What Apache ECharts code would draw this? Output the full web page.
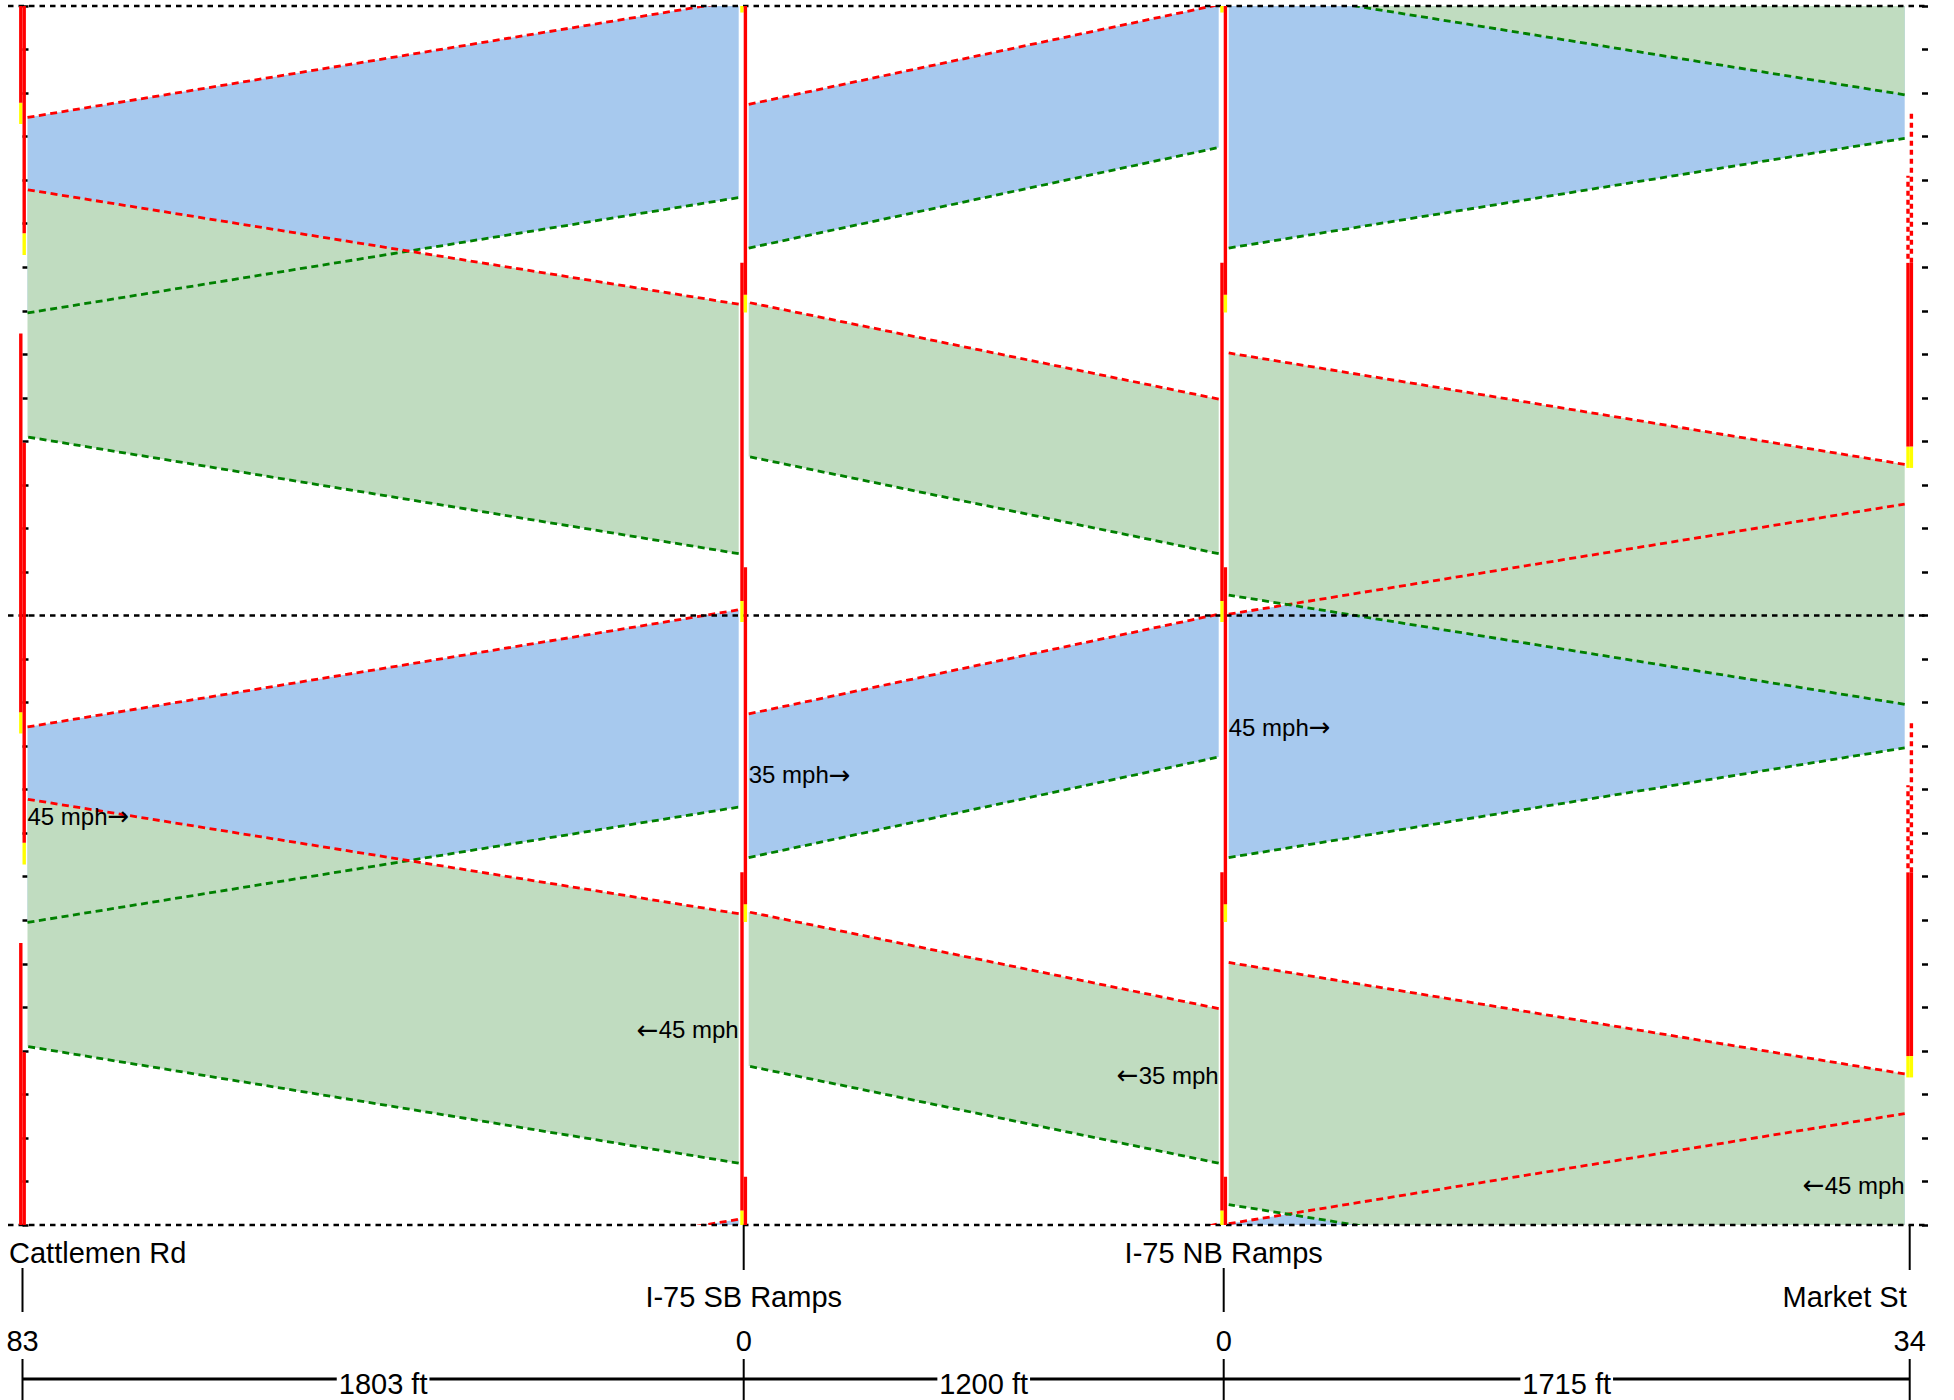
<!DOCTYPE html>
<html><head><meta charset="utf-8">
<script src="https://cdn.jsdelivr.net/npm/echarts@6/dist/echarts.min.js"></script>
<style>html,body{margin:0;padding:0;background:#fff}#c{width:1954px;height:1400px}</style>
</head><body><div id="c"></div>
<script>
// ---------- data ----------
const intersections = ['Cattlemen Rd', 'I-75 SB Ramps', 'I-75 NB Ramps', 'Market St'];
const linkDistances = [1803, 1200, 1715];          // ft
const offsets = ['83', '0', '0', '34'];
const cycleLength = 140;                           // s
const ebSpeeds = ['45 mph', '35 mph', '45 mph'];
const wbSpeeds = ['45 mph', '35 mph', '45 mph'];
// Eastbound band edges [green edge, red edge] (s in cycle) at west end / east end of each link
const ebBandWest = [[69.5, 114.4], [84.4, 117.4], [84.4, 140.3]];
const ebBandEast = [[96.0, 141.3], [107.5, 140.3], [109.6, 165.6]];
// Westbound band edges [green edge, red edge] at east end (upstream) / west end (downstream)
const wbBandEast = [[14.2, 71.5], [14.2, 49.7], [-20.4, 34.7]];
const wbBandWest = [[41.0, 97.8], [36.5, 71.9], [4.7, 60.3]];
// Signal displays per intersection: [start, end, state] (Y yellow, R red, D dashed red)
const ebSignal = [
  [[112.9, 117.8, 'Y'], [117.8, 204.8, 'R']],
  [[138.5, 143.35, 'Y'], [143.35, 221.0, 'R']],
  [[138.5, 143.35, 'Y'], [143.35, 221.0, 'R']],
  [[33.9, 38.8, 'Y'], [38.8, 81.0, 'R'], [81.0, 101.0, 'D']]
];
const wbSignal = [
  [[82.8, 87.8, 'Y'], [87.8, 179.7, 'R']],
  [[69.6, 73.7, 'Y'], [73.7, 151.1, 'R']],
  [[69.6, 73.7, 'Y'], [73.7, 151.1, 'R']],
  [[33.9, 38.8, 'Y'], [38.8, 81.0, 'R'], [81.0, 116.0, 'D']]
];
const cycles = [-1, 0, 1, 2];

// ---------- derived ----------
const cum = [0];
linkDistances.forEach(d => cum.push(cum[cum.length - 1] + d));
const inset = 12.5; // ft gap between band and signal bar
const FONT = '"Liberation Sans", Arial, sans-serif';
const BLUE = '#A7C9EE', GREEN = '#C0DCC0';

function bandGeom(dir, i, off) {
  if (dir === 0) {
    const xa = cum[i] + inset, xb = cum[i + 1] - inset;
    const a = ebBandWest[i], b = ebBandEast[i];
    return { a: [xa, a[0] + off, a[1] + off], b: [xb, b[0] + off, b[1] + off] };
  } else {
    const xa = cum[i + 1] - inset, xb = cum[i] + inset;
    const a = wbBandEast[i], b = wbBandWest[i];
    return { a: [xa, a[0] + off, a[1] + off], b: [xb, b[0] + off, b[1] + off] };
  }
}

const bandItems = d => {
  const r = [];
  for (let i = 0; i < linkDistances.length; i++) cycles.forEach(k => r.push([d, i, k]));
  return r;
};

function bandFill(dir) {
  return {
    type: 'custom', clip: true, xAxisIndex: 0, yAxisIndex: 0, z: 2 + dir,
    data: bandItems(dir),
    renderItem(params, api) {
      const g = bandGeom(dir, api.value(1), api.value(2) * cycleLength);
      const pts = [[g.a[0], g.a[1]], [g.b[0], g.b[1]], [g.b[0], g.b[2]], [g.a[0], g.a[2]]].map(p => api.coord(p));
      return { type: 'polygon', shape: { points: pts }, style: { fill: dir === 0 ? BLUE : GREEN, stroke: null } };
    }
  };
}
function bandLines(dir) {
  return {
    type: 'custom', clip: true, xAxisIndex: 0, yAxisIndex: 0, z: 5,
    data: bandItems(dir),
    renderItem(params, api) {
      const g = bandGeom(dir, api.value(1), api.value(2) * cycleLength);
      const mk = (j, col) => {
        const p = api.coord([g.a[0], g.a[j]]), q = api.coord([g.b[0], g.b[j]]);
        return { type: 'line', shape: { x1: p[0], y1: p[1], x2: q[0], y2: q[1] },
          style: { stroke: col, lineWidth: 2.8, lineDash: [7, 4.5] } };
      };
      return { type: 'group', children: [mk(1, '#008000'), mk(2, '#FF0000')] };
    }
  };
}

// signal items
const sigItems = [];
[ebSignal, wbSignal].forEach((sig, side) => sig.forEach((list, i) => list.forEach((iv, j) => cycles.forEach(k => sigItems.push([i, side, j, k])))));

const signalSeries = {
  type: 'custom', clip: true, xAxisIndex: 0, yAxisIndex: 0, z: 8,
  data: sigItems,
  renderItem(params, api) {
    const i = api.value(0), side = api.value(1), j = api.value(2), k = api.value(3);
    const iv = (side === 0 ? ebSignal : wbSignal)[i][j];
    const off = k * cycleLength;
    const p0 = api.coord([cum[i], iv[0] + off]);
    const p1 = api.coord([cum[i], iv[1] + off]);
    const w = 3.4;
    const x = side === 0 ? p0[0] - w : p0[0];
    if (iv[2] === 'D') {
      return { type: 'line', shape: { x1: x + w / 2, y1: p0[1], x2: x + w / 2, y2: p1[1] },
        style: { stroke: '#FF0000', lineWidth: w, lineDash: [5, 4], lineDashOffset: side === 0 ? 4.5 : 0 } };
    }
    return { type: 'rect', shape: { x: x, y: p1[1], width: w, height: p0[1] - p1[1] },
      style: { fill: iv[2] === 'Y' ? '#FFFF00' : '#FF0000' } };
  }
};

const cycleLines = {
  type: 'custom', clip: false, xAxisIndex: 0, yAxisIndex: 0, z: 6,
  data: [0, 1, 2].map(n => [n]),
  renderItem(params, api) {
    const t = api.value(0) * cycleLength;
    const p = api.coord([-36.25, t]), q = api.coord([4763.75, t]);
    return { type: 'line', shape: { x1: p[0], y1: p[1], x2: q[0], y2: q[1] },
      style: { stroke: '#000', lineWidth: 2.6, lineDash: [5.5, 5] } };
  }
};

const richSpeed = {
  t: { fontFamily: '"Liberation Sans", Arial, sans-serif', fontSize: 24, color: '#000' },
  r: { fontFamily: '"DejaVu Sans", sans-serif', fontSize: 26, color: '#000' }
};
const speedLabels = {
  type: 'custom', clip: false, xAxisIndex: 0, yAxisIndex: 0, z: 10,
  data: [0, 1].flatMap(d => linkDistances.map((_, i) => [d, i])),
  renderItem(params, api) {
    const dir = api.value(0), i = api.value(1);
    const g = bandGeom(dir, i, 0);
    const ps = api.coord([g.a[0], (g.a[1] + g.a[2]) / 2]);
    const pe = api.coord([g.b[0], (g.b[1] + g.b[2]) / 2]);
    const f = 52 / Math.abs(pe[0] - ps[0]);
    const y = ps[1] + (pe[1] - ps[1]) * f;
    const txt = dir === 0 ? '{t|' + ebSpeeds[i] + '}{r|→}' : '{r|←}{t|' + wbSpeeds[i] + '}';
    return { type: 'text', x: ps[0], y: y,
      style: { text: txt, rich: richSpeed, fill: '#000',
        font: '24px ' + FONT, align: dir === 0 ? 'left' : 'right', verticalAlign: 'middle' } };
  }
};

// bottom annotations (grid 1, y in px rows)
const nameAlign = ['left', 'center', 'center', 'right'];
const nameDx = [-13.5, 0, 0, -3];
const bottomNodes = {
  type: 'custom', clip: false, xAxisIndex: 1, yAxisIndex: 2, z: 10,
  data: intersections.map((_, i) => [i]),
  renderItem(params, api) {
    const i = api.value(0);
    const row = i % 2;
    const nameY = row === 0 ? 1253 : 1297;
    const tk = row === 0 ? [1268, 1312] : [1225, 1270];
    const pn = api.coord([cum[i], nameY]);
    const t0 = api.coord([cum[i], tk[0]]), t1 = api.coord([cum[i], tk[1]]);
    const po = api.coord([cum[i], 1341]);
    const s0 = api.coord([cum[i], 1359]), s1 = api.coord([cum[i], 1400]);
    return { type: 'group', children: [
      { type: 'text', x: pn[0] + nameDx[i], y: pn[1], style: { text: intersections[i], fill: '#000', font: '29px ' + FONT, align: nameAlign[i], verticalAlign: 'middle' } },
      { type: 'line', shape: { x1: t0[0], y1: t0[1], x2: t1[0], y2: t1[1] }, style: { stroke: '#000', lineWidth: 2 } },
      { type: 'text', x: po[0], y: po[1], style: { text: offsets[i], fill: '#000', font: '29px ' + FONT, align: 'center', verticalAlign: 'middle' } },
      { type: 'line', shape: { x1: s0[0], y1: s0[1], x2: s1[0], y2: s1[1] }, style: { stroke: '#000', lineWidth: 2 } }
    ] };
  }
};
const bottomLinks = {
  type: 'custom', clip: false, xAxisIndex: 1, yAxisIndex: 2, z: 10,
  data: linkDistances.map((_, i) => [i]),
  renderItem(params, api) {
    const i = api.value(0);
    const p = api.coord([cum[i], 1379]), q = api.coord([cum[i + 1], 1379]);
    const m = api.coord([(cum[i] + cum[i + 1]) / 2, 1384]);
    return { type: 'group', children: [
      { type: 'line', shape: { x1: p[0], y1: p[1], x2: q[0], y2: q[1] }, style: { stroke: '#000', lineWidth: 3 } },
      { type: 'text', x: m[0], y: m[1], z2: 5, style: { text: linkDistances[i] + ' ft', fill: '#000', font: '29px ' + FONT, align: 'center', verticalAlign: 'middle', backgroundColor: '#fff', padding: [0, 2] } }
    ] };
  }
};

const yTick = pos => ({
  type: 'value', gridIndex: 0, position: pos, min: 0, max: 2 * cycleLength, interval: 10,
  axisLine: { show: false }, axisLabel: { show: false }, splitLine: { show: false },
  axisTick: { show: true, inside: true, length: 6, lineStyle: { color: '#000', width: 2.5 } }
});

const chart = echarts.init(document.getElementById('c'), null, { renderer: 'svg' });
chart.setOption({
  animation: false,
  backgroundColor: '#fff',
  grid: [
    { left: 8, top: 6, width: 1920, height: 1219 },
    { left: 8, top: 1225, width: 1920, height: 175 }
  ],
  xAxis: [
    { type: 'value', gridIndex: 0, min: -36.25, max: 4763.75, show: false },
    { type: 'value', gridIndex: 1, min: -36.25, max: 4763.75, show: false }
  ],
  yAxis: [
    yTick('left'), yTick('right'),
    { type: 'value', gridIndex: 1, min: 1225, max: 1400, inverse: true, show: false }
  ],
  series: [
    bandFill(0), bandFill(1), bandLines(0), bandLines(1),
    cycleLines, signalSeries, speedLabels, bottomNodes, bottomLinks
  ]
});
</script></body></html>
